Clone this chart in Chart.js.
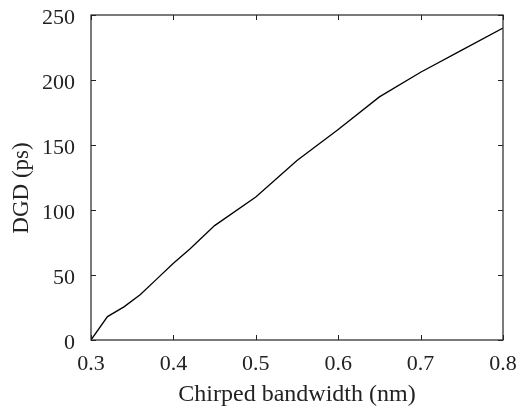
<!DOCTYPE html>
<html lang="en">
  <head>
    <meta charset="UTF-8" />
    <script src="https://cdn.jsdelivr.net/npm/chart.js@4.4.0/dist/chart.umd.min.js"></script>
    <style>
      html, body { margin: 0; padding: 0; background: #fff; }
      #wrap { width: 521px; height: 408px; }
    </style>
  </head>
  <body>
    <div id="wrap"><canvas id="dgdChart"></canvas></div>
    <script>
      // values
      const bandwidth = [0.3, 0.32, 0.34, 0.36, 0.38, 0.4, 0.42, 0.45, 0.5, 0.55, 0.6, 0.65, 0.7, 0.75, 0.8];
      const dgd = [0, 18, 25.5, 35, 47, 59, 70, 88, 110, 138, 162, 187, 206, 223, 240];
      const xTicks = [0.3, 0.4, 0.5, 0.6, 0.7, 0.8];
      const yTicks = [0, 50, 100, 150, 200, 250];
      const xTitle = "Chirped bandwidth (nm)";
      const yTitle = "DGD (ps)";

      const serif = "'Liberation Serif', 'DejaVu Serif', serif";
      const tickFont = { family: serif, size: 22 };

      // box around the plot, inward ticks on all sides, axis titles
      const frame = {
        id: "frame",
        afterDraw(chart) {
          const { ctx, chartArea: a, scales } = chart;
          ctx.save();
          ctx.strokeStyle = "#222";
          ctx.lineWidth = 1.2;
          ctx.strokeRect(a.left, a.top, a.right - a.left, a.bottom - a.top);
          ctx.lineWidth = 1;
          const len = 5;
          scales.x.ticks.forEach((t) => {
            const px = Math.round(scales.x.getPixelForValue(t.value)) + 0.5;
            ctx.beginPath();
            ctx.moveTo(px, a.bottom); ctx.lineTo(px, a.bottom - len);
            ctx.moveTo(px, a.top); ctx.lineTo(px, a.top + len);
            ctx.stroke();
          });
          scales.y.ticks.forEach((t) => {
            const py = Math.round(scales.y.getPixelForValue(t.value)) + 0.5;
            ctx.beginPath();
            ctx.moveTo(a.left, py); ctx.lineTo(a.left + len, py);
            ctx.moveTo(a.right, py); ctx.lineTo(a.right - len, py);
            ctx.stroke();
          });

          ctx.fillStyle = "#222";
          ctx.textAlign = "center";
          ctx.textBaseline = "alphabetic";
          ctx.font = "24px " + serif;
          ctx.fillText(xTitle, (a.left + a.right) / 2, 401);
          ctx.font = "23px " + serif;
          ctx.translate(28, 188);
          ctx.rotate(-Math.PI / 2);
          ctx.fillText(yTitle, 0, 0);
          ctx.restore();
        },
      };

      new Chart(document.getElementById("dgdChart"), {
        type: "line",
        data: {
          datasets: [
            {
              data: bandwidth.map((x, i) => ({ x: x, y: dgd[i] })),
              borderColor: "#000",
              borderWidth: 1.3,
              pointRadius: 0,
              tension: 0,
              fill: false,
            },
          ],
        },
        options: {
          responsive: true,
          maintainAspectRatio: false,
          animation: false,
          layout: { padding: { left: 0, right: 18, top: 15, bottom: 0 } },
          plugins: { legend: { display: false }, tooltip: { enabled: false } },
          scales: {
            x: {
              type: "linear",
              min: 0.3,
              max: 0.8,
              afterBuildTicks: (s) => { s.ticks = xTicks.map((v) => ({ value: v })); },
              afterFit: (s) => {
                s.height = 68;
                s.paddingLeft = 0; s.paddingRight = 0;
              },
              grid: { display: false, drawTicks: false },
              border: { display: false },
              ticks: {
                color: "#222",
                font: tickFont,
                padding: 11,
                maxRotation: 0,
                callback: (v) => v.toFixed(1),
              },
            },
            y: {
              min: 0,
              max: 250,
              afterBuildTicks: (s) => { s.ticks = yTicks.map((v) => ({ value: v })); },
              afterFit: (s) => {
                s.width = 91;
                s.paddingTop = 0; s.paddingBottom = 0;
              },
              grid: { display: false, drawTicks: false },
              border: { display: false },
              ticks: { color: "#222", font: tickFont, padding: 16, labelOffset: 3 },
            },
          },
        },
        plugins: [frame],
      });
    </script>
  </body>
</html>
